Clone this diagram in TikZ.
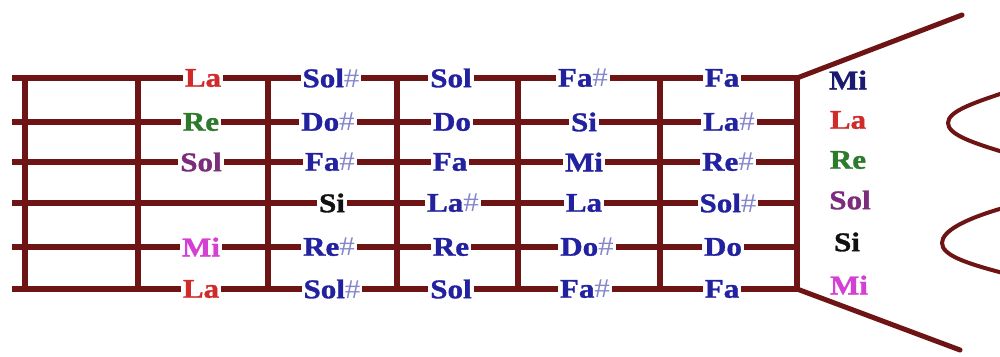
\documentclass[tikz,border=0pt]{standalone}
\usepackage{fontspec}
\newfontfamily\lblfont[FakeStretch=1.15,FakeBold=1.2]{Liberation Serif Bold}
\newfontfamily\shpfont[FakeStretch=1.15]{Liberation Serif}
\definecolor{wood}{HTML}{6E1414}
\definecolor{nblue}{HTML}{2222A0}
\definecolor{navy}{HTML}{1A1A70}
\definecolor{nred}{HTML}{D02A2A}
\definecolor{ngreen}{HTML}{2D7A2D}
\definecolor{npurple}{HTML}{7B2D7B}
\definecolor{nmag}{HTML}{D43FD4}
\definecolor{nblack}{HTML}{111111}
\newcommand{\shp}{{\shpfont\color{nblue!55!white}\#}}
\begin{document}
\begin{tikzpicture}[x=1pt,y=-1pt,
  stringline/.style={draw=wood,line width=6.5pt},
  fretline/.style={draw=wood,line width=6.5pt},
  headline/.style={draw=wood,line width=5pt,line cap=round},
  pegline/.style={draw=wood,line width=4pt},
  note/.style={font=\lblfont\fontsize{27}{27}\selectfont,fill=white,inner xsep=2pt,inner ysep=0pt,text=nblue,anchor=center},
  opennote/.style={font=\lblfont\fontsize{27}{27}\selectfont,inner sep=0pt,anchor=center}]
\useasboundingbox (0,0) rectangle (1000,356);
\fill[white] (0,0) rectangle (1000,356);
% strings
\foreach \i/\y in {1/78,2/122,3/162,4/203,5/247,6/289}{
  \coordinate (L\i) at (12,\y);
  \coordinate (R\i) at (797,\y);
  \draw[stringline] (L\i) -- (R\i);
}
% frets
\foreach \j/\x in {1/25,2/138,3/268,4/397,5/518,6/660,7/797}{
  \coordinate (T\j) at (\x,75);
  \coordinate (B\j) at (\x,292);
  \draw[fretline] (T\j) -- (B\j);
}
% headstock
\coordinate (H1) at (962,15);
\coordinate (H2) at (960,350);
\draw[headline] (R1) -- (H1);
\draw[headline] (R6) -- (H2);
\coordinate (P1a) at (1003,93);
\coordinate (P1t) at (948,123);
\coordinate (P1b) at (1003,152);
\coordinate (P2a) at (1003,208);
\coordinate (P2t) at (942,243);
\coordinate (P2b) at (1003,273);
\draw[pegline] (P1a) .. controls (970,104) and (948,112) .. (P1t) .. controls (948,134) and (970,142) .. (P1b);
\draw[pegline] (P2a) .. controls (965,219) and (942,231) .. (P2t) .. controls (942,255) and (965,263) .. (P2b);
% column 1
\node[note,text=nred]    (c1s1) at (203,78)  {La};
\node[note,text=ngreen]  (c1s2) at (201,122) {Re};
\node[note,text=npurple] (c1s3) at (201,162) {Sol};
\node[note,text=nmag]    (c1s5) at (201,247) {Mi};
\node[note,text=nred]    (c1s6) at (201,289) {La};
% column 2
\node[note] (c2s1) at (331,78)  {Sol\shp};
\node[note] (c2s2) at (328,122) {Do\shp};
\node[note] (c2s3) at (330,162) {Fa\shp};
\node[note,text=nblack] (c2s4) at (332,203) {Si};
\node[note] (c2s5) at (329,247) {Re\shp};
\node[note] (c2s6) at (332,289) {Sol\shp};
% column 3
\node[note] (c3s1) at (451,78)  {Sol};
\node[note] (c3s2) at (452,122) {Do};
\node[note] (c3s3) at (450,162) {Fa};
\node[note] (c3s4) at (453,203) {La\shp};
\node[note] (c3s5) at (451,247) {Re};
\node[note] (c3s6) at (451,289) {Sol};
% column 4
\node[note] (c4s1) at (583,78)  {Fa\shp};
\node[note] (c4s2) at (584,122) {Si};
\node[note] (c4s3) at (584,162) {Mi};
\node[note] (c4s4) at (584,203) {La};
\node[note] (c4s5) at (587,247) {Do\shp};
\node[note] (c4s6) at (585,289) {Fa\shp};
% column 5
\node[note] (c5s1) at (722,78)  {Fa};
\node[note] (c5s2) at (729,122) {La\shp};
\node[note] (c5s3) at (728,162) {Re\shp};
\node[note] (c5s4) at (728,203) {Sol\shp};
\node[note] (c5s5) at (723,247) {Do};
\node[note] (c5s6) at (722,289) {Fa};
% open strings
\node[opennote,text=navy]    (o1) at (848,80)  {Mi};
\node[opennote,text=nred]    (o2) at (848,120) {La};
\node[opennote,text=ngreen]  (o3) at (848,160) {Re};
\node[opennote,text=npurple] (o4) at (850,200) {Sol};
\node[opennote,text=nblack]  (o5) at (847,242) {Si};
\node[opennote,text=nmag]    (o6) at (849,285) {Mi};
\end{tikzpicture}
\end{document}
